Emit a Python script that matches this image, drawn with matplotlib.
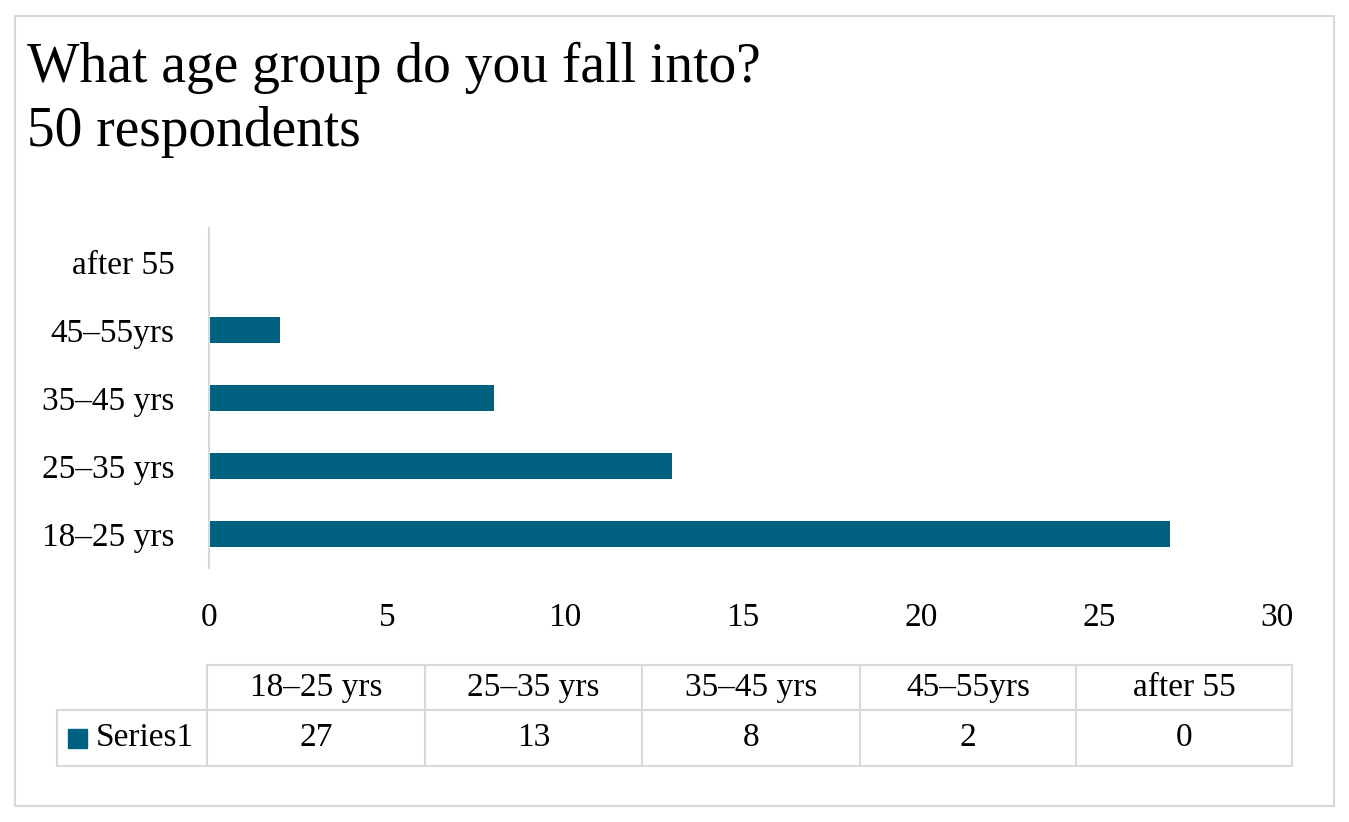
import matplotlib.pyplot as plt
from matplotlib.patches import Rectangle

categories = ['18–25 yrs', '25–35 yrs', '35–45 yrs', '45–55yrs', 'after 55']
values = [27, 13, 8, 2, 0]
series_name = 'Series1'
x_ticks = [0, 5, 10, 15, 20, 25, 30]

bar_color = '#00607f'
grid_color = '#d9d9d9'
W, H = 1349, 822

plt.rcParams['font.family'] = ['Liberation Serif', 'DejaVu Serif']

fig = plt.figure(figsize=(W / 100, H / 100), dpi=100)

# overlay in pixel coordinates for border, title and data table
over = fig.add_axes([0, 0, 1, 1])
over.set_xlim(0, W)
over.set_ylim(H, 0)
over.axis('off')
over.add_patch(Rectangle((15, 16), 1319, 790, fill=False, ec=grid_color, lw=1.5))

over.text(27, 82, 'What age group do you fall into?', fontsize=40, va='baseline', ha='left')
over.text(27, 146, '50 respondents', fontsize=40, va='baseline', ha='left')

# main bar chart
ax = fig.add_axes([209 / W, 1 - 568 / H, (1277 - 209) / W, (568 - 228) / H])
ypos = list(range(len(categories)))
ax.barh(ypos, values, height=0.38, color=bar_color)
ax.set_xlim(0, 30)
ax.set_ylim(-0.5, len(categories) - 0.5)
ax.set_xticks(x_ticks)
ax.set_yticks(ypos)
ax.set_yticklabels(categories)
ax.tick_params(axis='both', length=0, labelsize=24)
ax.tick_params(axis='x', pad=25)
ax.tick_params(axis='y', pad=25)
for side in ['top', 'right', 'bottom']:
    ax.spines[side].set_visible(False)
ax.spines['left'].set_color(grid_color)
ax.spines['left'].set_linewidth(1.5)
ax.patch.set_alpha(0)

# data table under the chart
col_edges = [207, 425, 642, 860, 1076, 1292]
left_edge = 57
row_top, row_mid, row_bot = 665, 710, 766
lk = dict(color=grid_color, lw=1.5)
over.plot([col_edges[0], col_edges[-1]], [row_top, row_top], **lk)
over.plot([left_edge, col_edges[-1]], [row_mid, row_mid], **lk)
over.plot([left_edge, col_edges[-1]], [row_bot, row_bot], **lk)
over.plot([left_edge, left_edge], [row_mid, row_bot], **lk)
for xe in col_edges:
    over.plot([xe, xe], [row_top, row_bot], **lk)

for i, (cat, val) in enumerate(zip(categories, values)):
    cx = (col_edges[i] + col_edges[i + 1]) / 2
    over.text(cx, (row_top + row_mid) / 2, cat, fontsize=24, ha='center', va='center')
    over.text(cx, (row_mid + row_bot) / 2, str(val), fontsize=24, ha='center', va='center')

over.add_patch(Rectangle((68, 729), 19, 19, color=bar_color))
over.text(96, (row_mid + row_bot) / 2, series_name, fontsize=24, ha='left', va='center')

fig.savefig('out.png', dpi=100)
